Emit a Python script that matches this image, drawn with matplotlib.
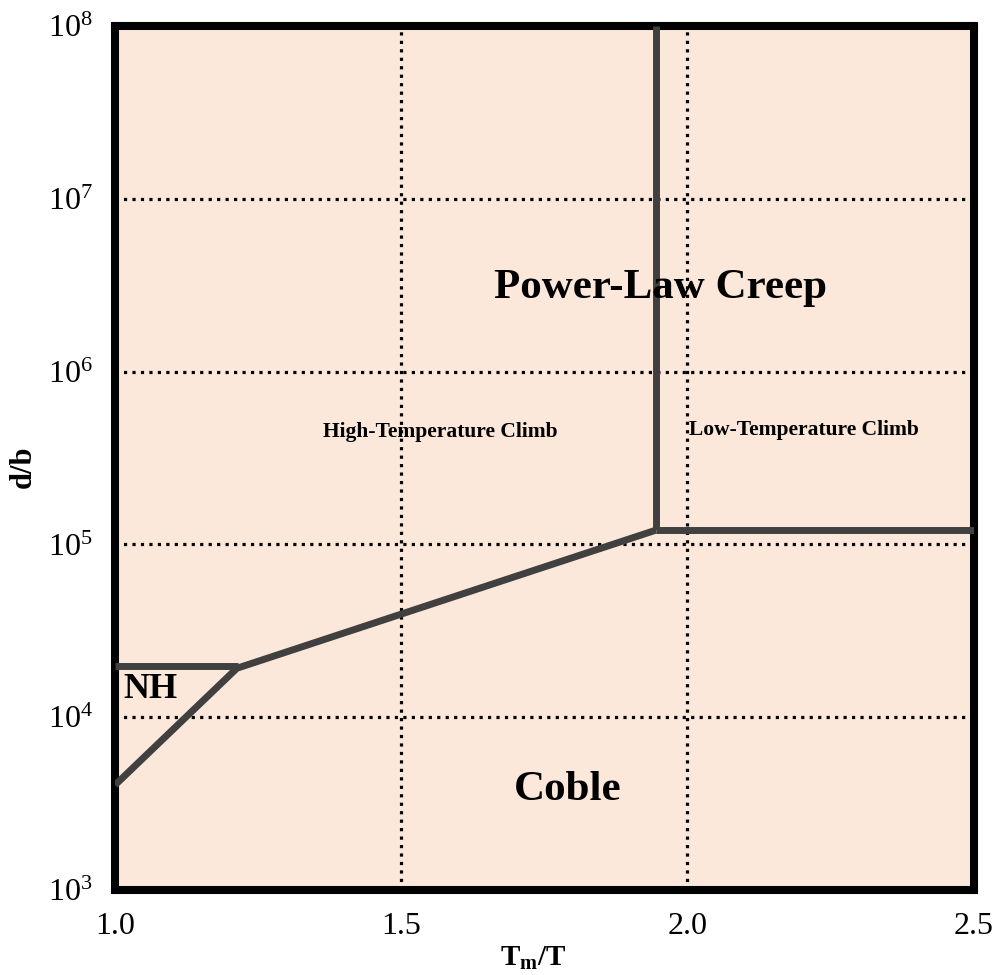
import numpy as np
import matplotlib
matplotlib.use("Agg")
import matplotlib.pyplot as plt

plt.rcParams["font.family"] = ["Liberation Serif", "DejaVu Serif"]
plt.rcParams["mathtext.fontset"] = "custom"
plt.rcParams["mathtext.rm"] = "Liberation Serif"
plt.rcParams["mathtext.bf"] = "Liberation Serif:bold"

# boundary lines of the deformation map (Tm/T, d/b)
nh_top_x = [1.0, 1.215]
nh_top_y = [1.98e4, 1.98e4]
nh_diag_x = [1.0, 1.215]
nh_diag_y = [4.05e3, 1.95e4]
coble_x = [1.215, 1.945]
coble_y = [1.93e4, 1.21e5]
climb_x = [1.945, 1.945]
climb_y = [1.21e5, 1.0e8]
ltc_x = [1.945, 2.5]
ltc_y = [1.21e5, 1.21e5]

x_ticks = [1.0, 1.5, 2.0, 2.5]
x_ticklabels = ["1.0", "1.5", "2.0", "2.5"]
y_ticks = [1e3, 1e4, 1e5, 1e6, 1e7, 1e8]

# region labels: (text, x, y, size)
regions = [
    ("Power-Law Creep", 1.953, 3.05e6, 31),
    ("High-Temperature Climb", 1.5675, 4.47e5, 15.5),
    ("Low-Temperature Climb", 2.203, 4.6e5, 15.5),
    ("Coble", 1.791, 3.8e3, 31),
]

fig = plt.figure(figsize=(10.03, 9.75), dpi=100)
ax = fig.add_axes([0.1147, 0.0872, 0.856, 0.886])
ax.set_facecolor("#fce8da")
ax.set_yscale("log")
ax.set_xlim(1.0, 2.5)
ax.set_ylim(1e3, 1e8)

ax.set_xticks(x_ticks)
ax.set_xticklabels(x_ticklabels)
ax.set_yticks(y_ticks)
ax.minorticks_off()
ax.tick_params(length=0, pad=16, labelsize=23)

# dotted grid
for gx in [1.5, 2.0]:
    ax.axvline(gx, color="black", lw=2.3, ls=":", zorder=1)
for gy in [1e4, 1e5, 1e6, 1e7]:
    ax.axhline(gy, color="black", lw=2.3, ls=":", zorder=1)

line_kw = dict(color="#404040", lw=5, solid_capstyle="butt", zorder=3)
ax.plot(nh_top_x, nh_top_y, **line_kw)
ax.plot(nh_diag_x, nh_diag_y, **line_kw)
ax.plot(coble_x, coble_y, **line_kw)
ax.plot(climb_x, climb_y, **line_kw)
ax.plot(ltc_x, ltc_y, **line_kw)

for txt, tx, ty, sz in regions:
    ax.text(tx, ty, txt, fontsize=sz, fontweight="bold", ha="center", va="center", zorder=4)
ax.text(1.014, 1.44e4, "NH", fontsize=26, fontweight="bold", ha="left", va="center", zorder=4)

for sp in ax.spines.values():
    sp.set_linewidth(5.8)
    sp.set_color("black")

ax.set_xlabel(r"T$_{\mathbf{m}}$/T", fontsize=21, fontweight="bold")
ax.set_ylabel("d/b", fontsize=22, fontweight="bold")
ax.xaxis.set_label_coords(0.487, -0.063)
ax.yaxis.set_label_coords(-0.09, 0.49)

fig.savefig("out.png", dpi=100)
